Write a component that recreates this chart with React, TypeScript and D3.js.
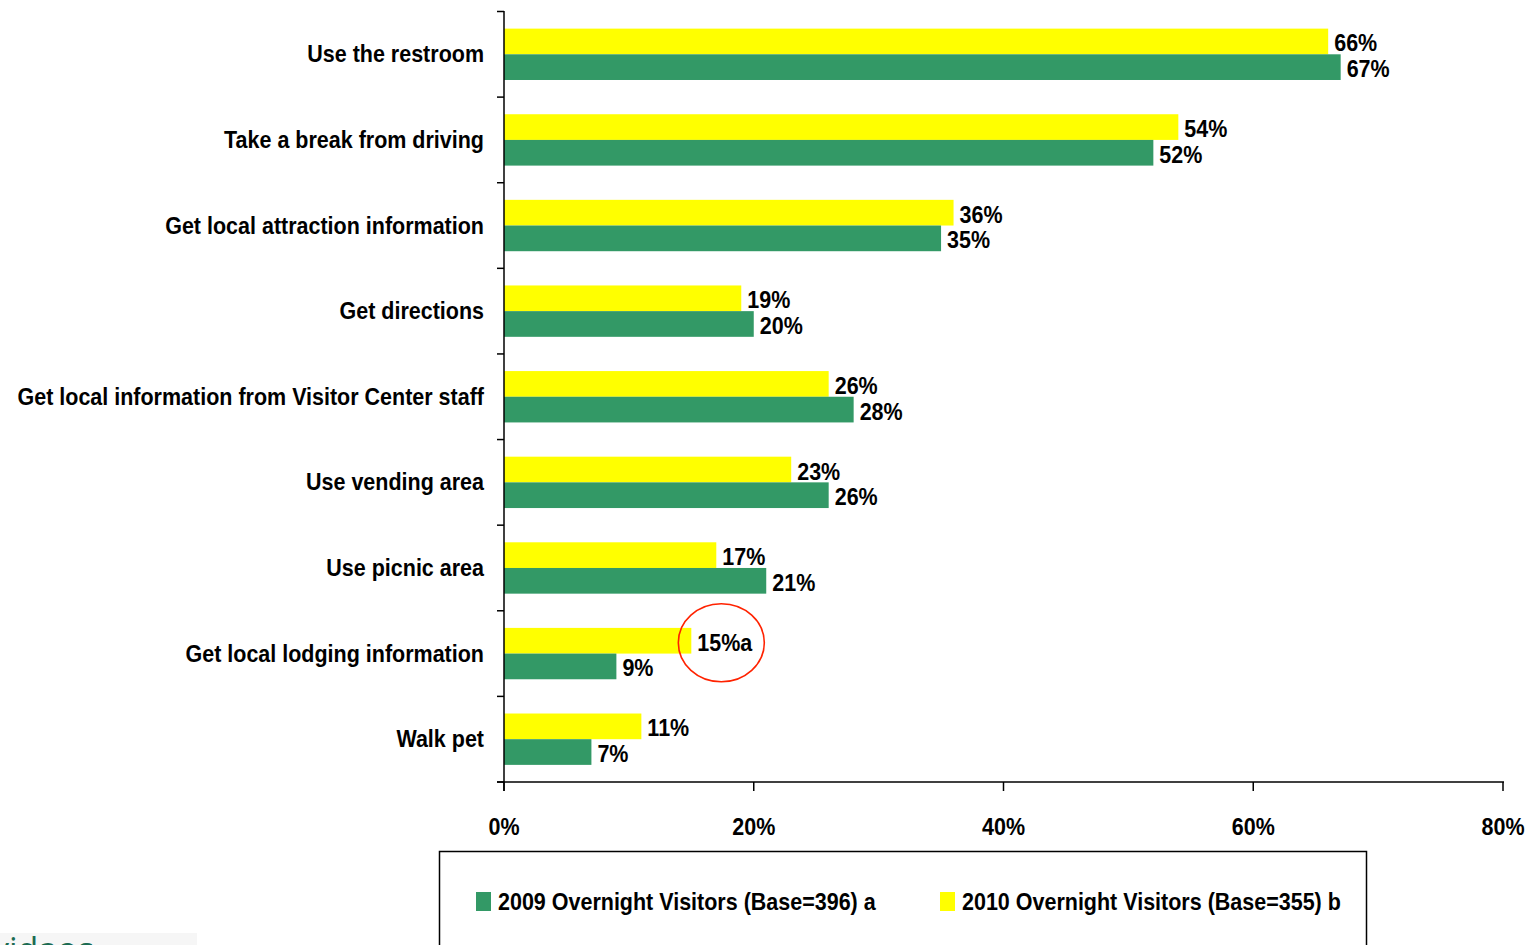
import React from "react";
import * as d3 from "d3";

const categories = [
  "Use the restroom",
  "Take a break from driving",
  "Get local attraction information",
  "Get directions",
  "Get local information from Visitor Center staff",
  "Use vending area",
  "Use picnic area",
  "Get local lodging information",
  "Walk pet",
];
const values2009 = [67, 52, 35, 20, 28, 26, 21, 9, 7];
const values2010 = [66, 54, 36, 19, 26, 23, 17, 15, 11];
const sigLetters2010 = ["", "", "", "", "", "", "", "a", ""];
const xTicks = [0, 20, 40, 60, 80];
const seriesNames = ["2009 Overnight Visitors (Base=396) a", "2010 Overnight Visitors (Base=355) b"];

const GREEN = "#339966";
const YELLOW = "#FFFF00";
const FONT = "'Liberation Sans', Arial, sans-serif";
const SX = 0.935;

function T({ x, y, anchor = "start", size = 23, children }: { x: number; y: number; anchor?: string; size?: number; children: React.ReactNode }) {
  return (
    <g transform={`translate(${x},${y}) scale(${SX},1)`}>
      <text x={0} y={0} textAnchor={anchor} fontSize={size} fill="#000">{children}</text>
    </g>
  );
}

export default function App() {
  const W = 1528, H = 945;
  const x = d3.scaleLinear().domain([0, 80]).range([504, 1503]);
  const y = d3.scaleBand<string>().domain(categories).range([11.5, 782]).paddingInner(0.4).paddingOuter(0.2);
  const sub = d3.scaleBand<string>().domain(["2010", "2009"]).range([0, y.bandwidth()]);
  const step = y.step();
  const boundaries = d3.range(categories.length + 1).map((i) => 11.5 + i * step);

  return (
    <svg width={W} height={H} style={{ position: "absolute", left: 0, top: 0, display: "block", background: "#fff" }} fontFamily={FONT} fontWeight="bold">
      {categories.map((c, i) => {
        const y0 = y(c)!;
        const yc = y0 + y.bandwidth() / 2;
        const y10 = y0 + sub("2010")!;
        const y09 = y0 + sub("2009")!;
        const bh = sub.bandwidth();
        return (
          <g key={c}>
            <T x={484} y={yc + 8} anchor="end">{c}</T>
            <rect x={x(0)} y={y10} width={x(values2010[i]) - x(0)} height={bh} fill={YELLOW} />
            <rect x={x(0)} y={y09} width={x(values2009[i]) - x(0)} height={bh} fill={GREEN} />
            <T x={x(values2010[i]) + 6} y={y10 + bh / 2 + 10}>{`${values2010[i]}%${sigLetters2010[i]}`}</T>
            <T x={x(values2009[i]) + 6} y={y09 + bh / 2 + 10}>{`${values2009[i]}%`}</T>
            {sigLetters2010[i] && (
              <ellipse cx={x(values2010[i]) + 30} cy={y10 + bh / 2 + 2} rx={43} ry={39} fill="none" stroke="#ff2200" strokeWidth={1.6} />
            )}
          </g>
        );
      })}
      {/* y axis */}
      <line x1={504} x2={504} y1={11} y2={791} stroke="#000" strokeWidth={1.5} />
      {boundaries.map((b, i) => (
        <line key={i} x1={497} x2={504} y1={b} y2={b} stroke="#000" strokeWidth={1.5} />
      ))}
      {/* x axis */}
      <line x1={497} x2={1504} y1={782} y2={782} stroke="#000" strokeWidth={1.5} />
      {xTicks.map((t) => (
        <g key={t}>
          <line x1={x(t)} x2={x(t)} y1={782} y2={791} stroke="#000" strokeWidth={1.5} />
          <T x={x(t)} y={835} anchor="middle">{`${t}%`}</T>
        </g>
      ))}
      {/* legend */}
      <rect x={439.5} y={851.5} width={927} height={120} fill="#fff" stroke="#000" strokeWidth={1.5} />
      <rect x={476} y={892} width={15} height={19} fill={GREEN} />
      <T x={498} y={910}>{seriesNames[0]}</T>
      <rect x={940} y={892} width={15} height={19} fill={YELLOW} />
      <T x={962} y={910}>{seriesNames[1]}</T>
      {/* cut-off footer */}
      <rect x={0} y={933} width={197} height={12} fill="#f6f6f6" />
      <text x={-8} y={962} fontSize={34} fontWeight="normal" fill="#1b6b52" fontFamily="'Open Sans', sans-serif">vidaos</text>
    </svg>
  );
}
